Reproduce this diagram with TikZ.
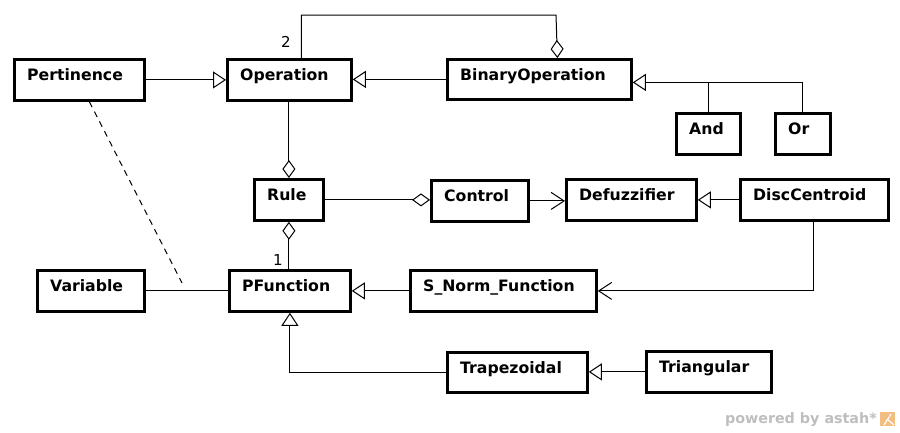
\documentclass[tikz,border=0pt]{standalone}
\usepackage{fontspec}
\setmainfont{DejaVu Sans}
\usetikzlibrary{arrows.meta,calc}
\definecolor{astahgrey}{RGB}{190,190,190}
\definecolor{astahorange}{RGB}{242,190,130}
\tikzset{
  cls/.style={draw=black, line width=2.8pt, fill=white, inner sep=0pt, anchor=north west},
  clstext/.style={anchor=base west, font=\fontsize{15.7}{17}\selectfont\bfseries, inner sep=0pt},
  conn/.style={draw=black, line width=1pt},
  gen/.style={conn, -{Triangle[open, length=13pt, width=17pt, line width=1pt]}},
  agg/.style={conn, -{Diamond[open, length=18pt, width=13pt, line width=1pt]}},
  nav/.style={conn, -{Straight Barb[length=13pt, width=17pt, line width=1pt]}},
  mult/.style={font=\fontsize{15}{16}\selectfont, inner sep=0pt, anchor=base west},
}
\newcommand\umlclass[6]{%
  \node[cls, minimum width=#4pt, minimum height=#5pt] (#1) at (#2,#3) {};
  \node[clstext] (#1-t) at ([xshift=14pt, yshift=-22pt]#1.north west) {#6};
}
\begin{document}
\begin{tikzpicture}[x=1pt, y=-1pt]
\useasboundingbox (0,0) rectangle (900,432);
% classes
\umlclass{pert}{13}{58}{130}{41}{Pertinence}
\umlclass{oper}{226}{58}{124}{41}{Operation}
\umlclass{binop}{446}{58}{184}{40}{BinaryOperation}
\umlclass{and}{675}{112}{64}{41}{And}
\umlclass{or}{774}{112}{55}{41}{Or}
\umlclass{rule}{253}{178}{69}{41}{Rule}
\umlclass{control}{430}{179}{97}{41}{Control}
\umlclass{defuz}{565}{178}{130}{41}{Defuzzifier}
\umlclass{disc}{739}{178}{148}{41}{DiscCentroid}
\umlclass{var}{36}{269}{107}{41}{Variable}
\umlclass{pfun}{228}{269}{121}{41}{PFunction}
\umlclass{snorm}{409}{269}{186}{41}{S\_Norm\_Function}
\umlclass{trap}{446}{351}{140}{40}{Trapezoidal}
\umlclass{tri}{645}{350}{125}{41}{Triangular}
% generalizations
\draw[gen] (pert.east) -- (pert.east -| oper.west);
\draw[gen] (binop.west) -- (binop.west -| oper.east);
\coordinate (genbin) at ([yshift=-3pt]binop.east);
\draw[gen] (or.north) |- (genbin);
\draw[conn] (and.north) -- (and.north |- genbin);
\draw[gen] (disc.west) -- (disc.west -| defuz.east);
\draw[gen] (snorm.west) -- (snorm.west -| pfun.east);
\draw[gen] (trap.west) -| (pfun.south);
\draw[gen] (tri.west) -- (tri.west -| trap.east);
% aggregations
\coordinate (topline) at (0,15);
\draw[agg] ([xshift=12pt]oper.north) |- (topline -| 556,0) -- ([xshift=18pt]binop.north);
\draw[agg] (oper.south) -- (oper.south -| rule.north) -- (rule.north);
\draw[agg] (rule.east) -- (rule.east -| control.west);
\draw[agg] (pfun.north) -- (pfun.north -| rule.south) -- (rule.south);
\node[mult] (m2) at (281,47) {2};
\node[mult] (m1) at (273,265) {1};
% navigable associations
\draw[nav] (control.east) -- (control.east -| defuz.west);
\draw[nav] ([xshift=-1pt]disc.south) |- (snorm.east);
% plain association + association class
\draw[conn] (var.east) -- (pfun.west);
\coordinate (acmid) at (182,283);
\draw[conn, dash pattern=on 6pt off 5pt] ([xshift=10pt]pert.south) -- (acmid);
% watermark
\node[anchor=base east, inner sep=0pt, text=astahgrey, font=\fontsize{14.3}{15}\selectfont\bfseries] (wm) at (877,423) {powered by astah*};
\fill[astahorange] (880,412) rectangle (895,426);
\draw[white, line width=1.2pt] (884,425) -- (891,414);
\draw[white, line width=1.2pt] (887,419) -- (894,425);
\end{tikzpicture}
\end{document}
